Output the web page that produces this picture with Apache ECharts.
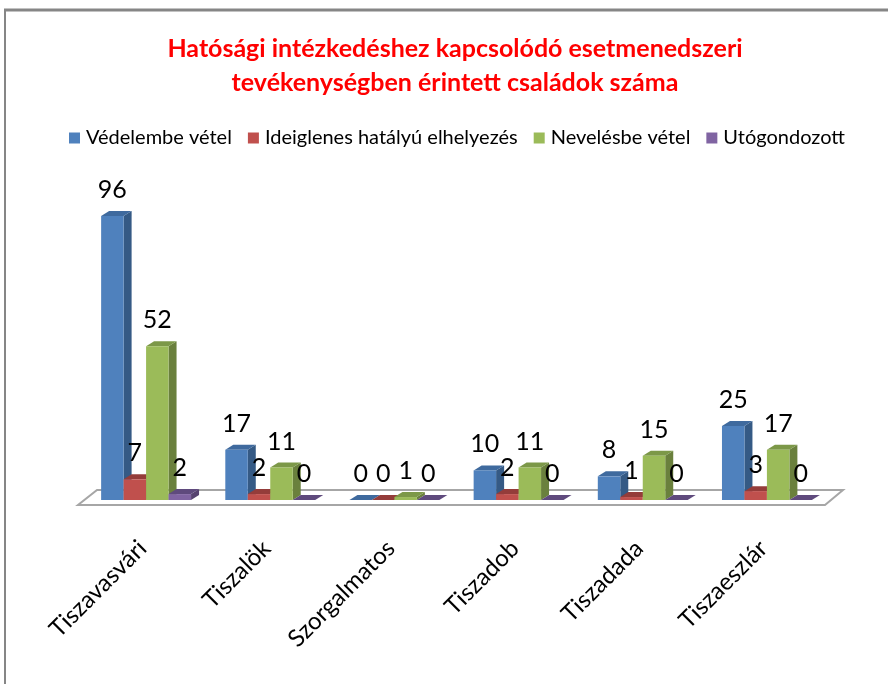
<!DOCTYPE html>
<html>
<head>
<meta charset="utf-8">
<style>
  html, body { margin: 0; padding: 0; background: #fff; }
  #chart { width: 888px; height: 684px; }
</style>
<script src="https://cdn.jsdelivr.net/npm/echarts@6/dist/echarts.min.js"></script>
</head>
<body>
<div id="chart"></div>
<script>
const titleText = 'Hatósági intézkedéshez kapcsolódó esetmenedszeri\ntevékenységben érintett családok száma';
const categories = ['Tiszavasvári', 'Tiszalök', 'Szorgalmatos', 'Tiszadob', 'Tiszadada', 'Tiszaeszlár'];
const seriesNames = ['Védelembe vétel', 'Ideiglenes hatályú elhelyezés', 'Nevelésbe vétel', 'Utógondozott'];
const vedelembe = [96, 17, 0, 10, 8, 25];
const ideiglenes = [7, 2, 0, 2, 1, 3];
const nevelesbe = [52, 11, 1, 11, 15, 17];
const utogondozott = [2, 0, 0, 0, 0, 0];

const fontName = 'Lato';
const depthX = 8;
const depthY = 5;
const barShare = 0.181;

// front, top, side colours of each series
const palette = [
  ['#4F81BD', '#3F6A9E', '#355A85'],
  ['#C0504D', '#943C3A', '#8A3A38'],
  ['#9BBB59', '#7C9848', '#6A803D'],
  ['#8064A2', '#5F4A7D', '#574370']
];

function barSeries(name, values, idx) {
  return {
    name: name,
    type: 'custom',
    itemStyle: { color: palette[idx][0] },
    data: values.map((v, i) => [i, v]),
    encode: { x: 0, y: 1 },
    renderItem: function (params, api) {
      const band = api.size([1, 0])[0];
      const w = band * barShare;
      const center = api.coord([api.value(0), 0])[0];
      const x0 = center - w * 2 + w * idx;
      const x1 = x0 + w;
      const yBase = api.coord([0, 0])[1];
      const yTop = api.coord([0, api.value(1)])[1];
      const colors = palette[idx];
      const children = [
        {
          type: 'polygon',
          shape: { points: [[x1, yBase], [x1 + depthX, yBase - depthY], [x1 + depthX, yTop - depthY], [x1, yTop]] },
          style: { fill: colors[2] }
        },
        {
          type: 'polygon',
          shape: { points: [[x0, yTop], [x0 + depthX, yTop - depthY], [x1 + depthX, yTop - depthY], [x1, yTop]] },
          style: { fill: colors[1] }
        }
      ];
      if (yBase - yTop > 0) {
        children.push({
          type: 'rect',
          shape: { x: x0, y: yTop, width: w, height: yBase - yTop },
          style: { fill: colors[0] }
        });
      }
      children.push({
        type: 'text',
        z2: 100,
        style: {
          x: (x0 + x1) / 2,
          y: yTop - depthY - 21,
          text: String(api.value(1)),
          fill: '#000',
          font: '25px ' + fontName,
          align: 'center',
          verticalAlign: 'middle'
        }
      });
      return { type: 'group', children: children };
    }
  };
}

// the flat floor under the bars
const floorSeries = {
  type: 'custom',
  silent: true,
  data: [[0, 0]],
  encode: { x: 0, y: 1 },
  renderItem: function (params, api) {
    const cs = params.coordSys;
    const yBase = api.coord([0, 0])[1];
    const left = cs.x;
    const right = cs.x + cs.width;
    return {
      type: 'polygon',
      shape: {
        points: [
          [left - 6, yBase + 5],
          [right - 4, yBase + 5],
          [right + 14, yBase - 10],
          [left + 13, yBase - 10]
        ]
      },
      style: { fill: '#fff', stroke: '#a6a6a6', lineWidth: 2 }
    };
  }
};

const chart = echarts.init(document.getElementById('chart'));
chart.setOption({
  animation: false,
  backgroundColor: '#fff',
  title: {
    text: titleText,
    left: 450,
    top: 27,
    textAlign: 'center',
    textStyle: { color: '#ff0000', fontFamily: fontName, fontWeight: 'bold', fontSize: 25, lineHeight: 34 }
  },
  legend: {
    data: seriesNames,
    left: 64,
    top: 123,
    icon: 'rect',
    itemWidth: 11,
    itemHeight: 11,
    itemGap: 16,
    textStyle: { color: '#000', fontFamily: fontName, fontSize: 20, padding: [0, 0, 0, 1] }
  },
  grid: { left: 84, right: 59, top: 216, bottom: 184 },
  xAxis: {
    type: 'category',
    data: categories,
    axisLine: { show: false },
    axisTick: { show: false },
    axisLabel: { rotate: 45, margin: 41, color: '#000', fontFamily: fontName, fontSize: 24, interval: 0, padding: [0, 5, 0, 0] }
  },
  yAxis: { type: 'value', min: 0, max: 96, show: false, splitLine: { show: false } },
  graphic: [
    { type: 'line', shape: { x1: 5, y1: 10, x2: 5, y2: 684 }, style: { stroke: '#868686', lineWidth: 2 } },
    { type: 'line', shape: { x1: 4, y1: 10, x2: 888, y2: 10 }, style: { stroke: '#868686', lineWidth: 3 } }
  ],
  series: [floorSeries,
    barSeries(seriesNames[0], vedelembe, 0),
    barSeries(seriesNames[1], ideiglenes, 1),
    barSeries(seriesNames[2], nevelesbe, 2),
    barSeries(seriesNames[3], utogondozott, 3)
  ]
});
</script>
</body>
</html>
